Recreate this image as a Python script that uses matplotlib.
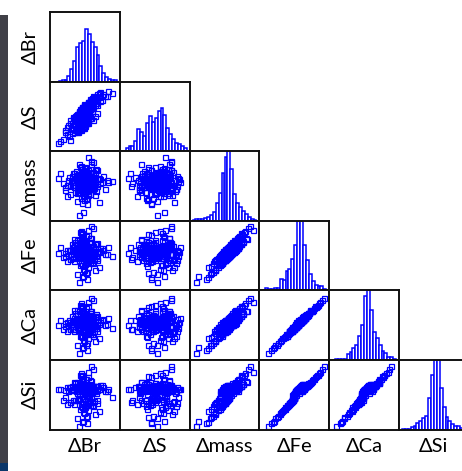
import numpy as np
import matplotlib.pyplot as plt
from matplotlib.patches import Rectangle

plt.rcParams['font.family'] = ['Lato', 'Open Sans', 'DejaVu Sans']

LABELS = ["\u0394Br", "\u0394S", "\u0394mass", "\u0394Fe", "\u0394Ca", "\u0394Si"]

# scatter data (axis units 0-100)
br = [45, 58, 38, 61, 49, 27, 55, 42, 70, 50, 33, 53, 64, 46, 40,
      57, 35, 48, 52, 44, 67, 51, 29, 47, 59, 39, 54, 19, 46, 63,
      51, 43, 76, 48, 36, 56, 44, 61, 50, 24, 47, 39, 57, 53, 68,
      46, 31, 53, 60, 41, 49, 83, 45, 37, 55, 50, 65, 43, 28, 48,
      55, 40, 47, 72, 51, 34, 58, 46, 52, 15, 44, 49, 62, 38, 54,
      43, 58, 50, 26, 47, 66, 41, 53, 36, 49, 60, 45, 52, 30, 46,
      62, 48, 39, 54, 44, 79, 51, 33, 47, 56, 42, 50, 21, 59, 45,
      49, 35, 55, 47, 68, 43, 52, 38, 60, 46, 53, 11, 48, 57, 41,
      52, 44, 63, 50, 37, 57, 46, 89, 42, 54, 48, 32, 59, 45, 51,
      40, 56, 47, 74, 43, 50, 25, 53, 46, 61, 38, 49, 55, 44, 66,
      58, 37, 51, 45, 64, 42, 53, 48, 70, 34, 56, 47, 22, 60, 50,
      44, 55, 33, 49, 62, 46, 57, 40, 52, 81, 45, 36, 54, 48, 65,
      53, 41, 60, 47, 29, 56, 43, 67, 50, 38, 58, 46, 52, 71, 44,
      48, 52, 44, 55, 50, 41, 57, 47, 53, 45, 59, 49, 42, 54, 51,
      46, 53, 50, 40, 56, 48, 44, 58, 51, 47, 43, 55, 49, 52, 61,
      54, 45, 49, 57, 42, 51, 47, 53, 60, 44, 50, 48, 56, 39, 52,
      43, 55, 51, 46, 58, 49, 53, 45, 50, 57, 41, 52, 47, 54, 48]
s = [30, 70, 52, 45, 64, 22, 40, 58, 78, 36, 49, 66, 50, 60, 28,
     68, 28, 60, 40, 55, 74, 63, 45, 35, 48, 30, 67, 17, 58, 72,
     40, 60, 82, 34, 50, 66, 33, 74, 61, 24, 56, 29, 70, 45, 55,
     63, 26, 46, 62, 30, 68, 86, 37, 52, 63, 40, 75, 58, 16, 57,
     45, 50, 33, 72, 66, 44, 68, 59, 43, 14, 51, 61, 64, 27, 65,
     37, 50, 58, 38, 63, 69, 55, 40, 31, 66, 72, 35, 62, 33, 42,
     76, 45, 46, 69, 61, 80, 48, 47, 40, 58, 53, 65, 27, 71, 55,
     59, 46, 71, 35, 66, 51, 53, 29, 66, 60, 47, 12, 44, 67, 49,
     60, 38, 78, 65, 34, 48, 64, 84, 57, 71, 42, 40, 74, 53, 63,
     51, 70, 57, 74, 32, 62, 35, 66, 37, 74, 54, 41, 52, 58, 79,
     67, 33, 43, 61, 73, 56, 64, 39, 84, 37, 54, 55, 31, 76, 48,
     54, 52, 32, 42, 80, 58, 72, 36, 67, 79, 40, 46, 63, 62, 66,
     47, 52, 58, 60, 40, 64, 35, 82, 57, 48, 75, 45, 51, 85, 50,
     52, 60, 41, 57, 48, 46, 63, 55, 49, 43, 66, 51, 47, 62, 58,
     44, 59, 53, 42, 64, 50, 49, 61, 55, 45, 52, 58, 47, 56, 69,
     57, 50, 46, 65, 39, 54, 52, 59, 62, 48, 55, 44, 60, 42, 51,
     48, 62, 56, 41, 60, 53, 57, 46, 50, 63, 45, 54, 52, 59, 47]
mass = [50, 68, 40, 58, 76, 63, 51, 54, 27, 60, 59, 43, 69, 74, 48,
        46, 52, 57, 31, 44, 73, 62, 38, 66, 56, 65, 51, 54, 69, 47,
        58, 44, 64, 53, 61, 52, 49, 84, 57, 35, 70, 62, 68, 24, 60,
        52, 59, 55, 63, 82, 45, 56, 33, 66, 47, 77, 37, 54, 50, 71,
        73, 61, 49, 55, 57, 58, 64, 42, 48, 68, 64, 53, 50, 45, 91,
        65, 38, 56, 58, 12, 74, 50, 67, 42, 62, 47, 59, 71, 59, 54,
        70, 56, 61, 40, 53, 46, 62, 52, 51, 63, 9, 55, 44, 81, 64,
        46, 48, 67, 59, 53, 78, 49, 57, 58, 66, 33, 61, 55, 63, 42,
        63, 55, 52, 45, 71, 48, 70, 57, 53, 37, 58, 65, 86, 67, 59,
        55, 63, 36, 56, 61, 40, 52, 70, 65, 48, 29, 60, 64, 79, 43,
        57, 60, 47, 51, 73, 58, 65, 30, 62, 68, 55, 54, 48, 51, 60,
        51, 57, 69, 64, 46, 62, 64, 41, 55, 59, 75, 52, 58, 36, 63,
        53, 66, 47, 67, 52, 56, 57, 50, 64, 61, 45, 26, 54, 60, 68,
        49, 63, 56, 58, 51, 66, 61, 55, 60, 52, 64, 47, 58, 54, 62,
        55, 61, 48, 67, 59, 53, 57, 63, 56, 50, 62, 66, 54, 52, 59,
        60, 57, 51, 64, 53, 62, 55, 49, 58, 65, 52, 61, 57, 54, 47,
        53, 59, 65, 50, 60, 56, 62, 58, 54, 48, 63, 57, 51, 52, 66]
fe = [56, 63, 47, 52, 71, 58, 44, 60, 33, 66, 54, 49, 61, 82, 57,
      40, 59, 64, 25, 51, 68, 55, 45, 62, 50, 73, 57, 48, 61, 53,
      65, 36, 58, 60, 69, 46, 55, 90, 52, 42, 63, 57, 76, 17, 54,
      59, 67, 48, 56, 74, 51, 62, 39, 58, 53, 70, 29, 60, 45, 64,
      80, 55, 43, 61, 50, 66, 57, 37, 54, 62, 72, 47, 59, 52, 87,
      58, 44, 63, 51, 21, 67, 55, 60, 48, 57, 41, 65, 78, 53, 61,
      64, 49, 56, 34, 60, 52, 68, 46, 58, 55, 12, 62, 50, 75, 57,
      53, 42, 60, 66, 47, 84, 56, 63, 51, 59, 27, 54, 61, 70, 49,
      57, 62, 45, 38, 65, 55, 77, 50, 58, 43, 63, 56, 93, 60, 52,
      48, 69, 31, 61, 54, 46, 58, 64, 71, 53, 23, 57, 59, 86, 50,
      62, 55, 41, 58, 67, 52, 60, 35, 56, 74, 49, 61, 54, 44, 66,
      57, 51, 63, 59, 39, 55, 69, 47, 60, 53, 81, 58, 64, 30, 56,
      46, 60, 54, 72, 58, 50, 62, 43, 57, 66, 52, 19, 59, 55, 63,
      55, 58, 61, 53, 57, 60, 56, 62, 54, 59, 57, 52, 63, 58, 56,
      60, 57, 54, 61, 56, 59, 53, 58, 62, 55, 57, 60, 51, 58, 64,
      57, 62, 55, 59, 48, 58, 61, 56, 53, 60, 57, 65, 54, 59, 50,
      58, 55, 60, 57, 63, 52, 59, 56, 61, 54, 58, 62, 57, 47, 60]
ca = [52, 63, 48, 49, 67, 58, 40, 56, 32, 61, 55, 45, 62, 78, 53,
      38, 55, 62, 21, 52, 63, 51, 45, 58, 47, 72, 53, 44, 61, 49,
      60, 34, 59, 55, 68, 42, 56, 86, 48, 41, 59, 57, 71, 15, 50,
      58, 63, 44, 57, 70, 47, 61, 35, 53, 54, 66, 27, 56, 44, 60,
      77, 50, 42, 58, 48, 61, 56, 33, 52, 58, 71, 43, 57, 47, 84,
      54, 43, 59, 50, 19, 66, 51, 58, 44, 56, 37, 61, 74, 52, 57,
      63, 45, 52, 31, 56, 51, 64, 44, 54, 53, 10, 58, 49, 70, 56,
      49, 41, 57, 62, 46, 79, 55, 59, 47, 58, 25, 50, 60, 65, 48,
      53, 60, 41, 37, 61, 54, 72, 46, 57, 39, 62, 52, 89, 56, 51,
      45, 65, 29, 57, 52, 42, 54, 62, 67, 49, 21, 56, 55, 82, 46,
      58, 54, 37, 56, 63, 48, 59, 33, 52, 72, 45, 57, 53, 40, 65,
      55, 47, 58, 58, 35, 51, 67, 43, 56, 52, 76, 54, 63, 28, 52,
      42, 58, 50, 71, 54, 49, 58, 42, 53, 65, 48, 17, 55, 54, 59,
      53, 56, 58, 52, 55, 58, 54, 60, 51, 57, 56, 49, 60, 55, 55,
      58, 55, 51, 59, 54, 56, 52, 56, 59, 53, 54, 58, 49, 57, 61,
      55, 59, 53, 58, 46, 55, 59, 53, 52, 58, 54, 63, 52, 56, 48,
      56, 53, 57, 55, 61, 49, 57, 55, 58, 52, 55, 60, 54, 45, 58]
si = [59, 58, 42, 56, 66, 61, 38, 64, 27, 62, 57, 45, 56, 78, 61,
      35, 63, 59, 18, 55, 63, 59, 40, 65, 46, 69, 60, 43, 65, 56,
      61, 30, 61, 56, 67, 41, 58, 87, 55, 37, 66, 53, 71, 9, 57,
      62, 62, 45, 60, 68, 54, 59, 34, 56, 57, 65, 23, 64, 40, 62,
      76, 59, 38, 64, 48, 61, 60, 32, 58, 59, 67, 44, 63, 55, 83,
      61, 40, 60, 55, 13, 62, 59, 57, 43, 60, 35, 61, 73, 57, 58,
      60, 45, 59, 28, 63, 56, 64, 42, 62, 58, 5, 58, 47, 70, 60,
      57, 37, 63, 62, 43, 79, 60, 59, 54, 62, 20, 58, 58, 66, 45,
      60, 59, 41, 32, 61, 59, 72, 47, 62, 38, 60, 59, 91, 63, 49,
      44, 64, 25, 64, 58, 41, 61, 60, 67, 57, 16, 60, 62, 82, 52,
      59, 58, 36, 61, 63, 56, 57, 29, 59, 69, 46, 63, 57, 39, 62,
      60, 53, 59, 62, 34, 58, 64, 43, 63, 56, 77, 61, 60, 24, 59,
      42, 62, 58, 67, 61, 47, 59, 38, 60, 62, 55, 11, 61, 59, 60,
      57, 60, 59, 56, 59, 62, 58, 60, 57, 61, 59, 54, 61, 60, 58,
      62, 59, 57, 59, 58, 61, 56, 60, 60, 58, 60, 62, 54, 60, 62,
      59, 60, 58, 61, 51, 60, 59, 58, 56, 62, 59, 63, 57, 61, 53,
      60, 58, 62, 59, 61, 55, 61, 58, 59, 57, 60, 60, 59, 50, 62]

# histogram heights, 24 bins over 0-100 (100 = top of cell)
hist_br = [0, 0, 0, 1, 2, 3, 8, 18, 30, 50, 55, 58, 75, 68, 57, 50, 38, 22, 12, 6, 4, 2, 2, 0]
hist_s = [0, 0, 5, 7, 8, 15, 32, 28, 22, 40, 51, 42, 48, 58, 62, 52, 34, 25, 17, 12, 10, 7, 5, 0]
hist_mass = [0, 1, 2, 2, 3, 4, 5, 8, 12, 25, 40, 68, 92, 100, 75, 38, 25, 20, 14, 10, 6, 3, 1, 0]
hist_fe = [0, 0, 3, 2, 2, 3, 4, 16, 15, 28, 31, 45, 65, 100, 100, 65, 43, 24, 14, 8, 6, 6, 2, 0]
hist_ca = [0, 0, 1, 1, 1, 2, 8, 12, 17, 22, 34, 50, 92, 100, 72, 40, 32, 22, 13, 10, 5, 4, 2, 0]
hist_si = [0, 1, 1, 1, 4, 5, 10, 13, 17, 20, 45, 78, 100, 100, 60, 32, 18, 12, 8, 5, 5, 2, 1, 0]

data = [br, s, mass, fe, ca, si]
hists = [hist_br, hist_s, hist_mass, hist_fe, hist_ca, hist_si]

W, H = 462, 471
X0, Y0, CW, CH = 50, 12, 69.8, 69.6
BLUE = '#0000ff'

fig = plt.figure(figsize=(W / 100, H / 100), dpi=100)

# side bar of the slide
fig.add_artist(Rectangle((0, 1 - 463 / H), 8 / W, 448 / H, transform=fig.transFigure,
                         facecolor='#404047', edgecolor='none'))
fig.add_artist(Rectangle((0, 0), 8 / W, 8 / H, transform=fig.transFigure,
                         facecolor='#0b376a', edgecolor='none'))

n = len(data)
for i in range(n):
    for j in range(i + 1):
        left = (X0 + j * CW) / W
        bottom = 1 - (Y0 + (i + 1) * CH) / H
        ax = fig.add_axes([left, bottom, CW / W, CH / H])
        ax.set_xticks([])
        ax.set_yticks([])
        for sp in ax.spines.values():
            sp.set_linewidth(1.4)
            sp.set_color('#111111')
        ax.set_xlim(0, 100)
        ax.set_ylim(0, 100)
        if i == j:
            counts = hists[i]
            edges = np.linspace(0, 100, len(counts) + 1)
            ax.bar(edges[:-1], counts, width=edges[1] - edges[0], align='edge',
                   facecolor='white', edgecolor=BLUE, linewidth=1.1)
        else:
            ax.plot(data[j], data[i], 's', mfc='none', mec=BLUE, ms=3.6, mew=0.9)

for k, lab in enumerate(LABELS):
    cx = (X0 + (k + 0.5) * CW) / W
    fig.text(cx, 1 - 447 / H, lab, ha='center', va='center', fontsize=14.5)
    cy = 1 - (Y0 + (k + 0.5) * CH) / H
    fig.text(30 / W, cy, lab, ha='center', va='center', rotation=90, fontsize=14.5)

fig.savefig('out.png', dpi=100)
